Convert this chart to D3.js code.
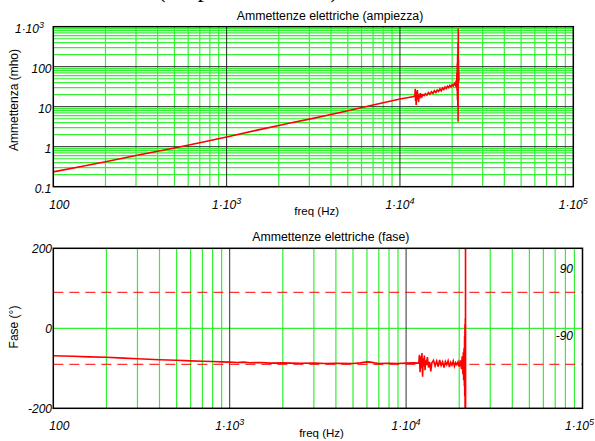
<!DOCTYPE html>
<html>
<head>
<meta charset="utf-8">
<script src="https://cdn.jsdelivr.net/npm/d3@7/dist/d3.min.js"></script>
<style>
  html, body { margin: 0; padding: 0; background: #fff; }
  svg { display: block; }
  text { font-family: "Liberation Sans", Arial, sans-serif; fill: #000; }
</style>
</head>
<body>
<svg id="chart" width="595" height="441"></svg>
<script>
// ---------------- DATA ----------------
const xTickValues = [100, 1000, 10000, 100000];
const xTickBase   = ["100", "1·10", "1·10", "1·10"];
const xTickSup    = ["", "3", "4", "5"];

const magTickValues = [0.1, 1, 10, 100, 1000];
const magTickBase   = ["0.1", "1", "10", "100", "1·10"];
const magTickSup    = ["", "", "", "", "3"];

const phaseTickValues = [-200, 0, 200];
const phaseTickLabels = ["-200", "0", "200"];
const phaseRefValues  = [90, -90];
const phaseRefLabels  = ["90", "-90"];

const titleMag   = "Ammettenze elettriche (ampiezza)";
const titlePhase = "Ammettenze elettriche (fase)";
const xLabel     = "freq (Hz)";
const yLabelMag  = "Ammettenza (mho)";
const yLabelPh   = "Fase (°)";

const magFreq = [100,150,200,300,400,500,700,1000,1500,2000,2325,3000,4000,5000,7000,10000,11000,12000,
  12200,12250,12300,12350,12400,12450,12500,12600,12650,12700,12800,12900,13000,13100,13200,13300,13400,
  13600,13800,14000,14300,14600,14900,15200,15500,15800,16100,16400,16700,17000,17300,17600,17900,18200,
  18500,18800,19100,19400,19700,20000,20300,20600,20900,21100,21200,21300,21350,21400,21450,21500,21550,
  21600,21650,21700,21720,21750,21800,21850,21900];
const magVal = [0.235,0.33,0.42,0.60,0.77,0.93,1.25,1.75,2.6,3.4,3.9,4.9,6.4,7.9,11.0,15.5,16.8,18,
  19,28,14,24,11,22,17,26,15,21,13,20,16,22,17,21,18,
  20,19,21,19.5,22.5,20.5,23.5,21.5,25,22.5,26,24,28,25,29.5,27,31,
  28.5,32.5,30,34,31.5,35.5,33,38,34,45,30,70,25,120,15,200,10,
  400,4.2,900,60,150,40,80,45];

const phaseFreq = [100,130,160,200,250,300,400,500,600,700,800,900,1000,1100,1200,1300,1500,1700,2000,2500,
  3000,3500,4000,5000,5500,6000,6300,6600,7000,8000,9000,10000,11000,11800,11900,12000,12100,12200,12300,
  12400,12500,12600,12700,12800,12900,13000,13200,13400,13600,13800,14000,14300,14600,14900,15200,15500,
  15800,16100,16400,16700,17000,17300,17600,17900,18200,18500,18800,19100,19400,19700,20000,20300,20600,
  20800,21000,21100,21200,21300,21400,21450,21500,21550,21600,21650,21700,21720,21740];
const phaseVal = [-68.5,-70,-71.5,-72.5,-74.5,-76,-78.5,-80,-81.5,-82.5,-83,-84,-84.5,-85.5,-84.5,-86,-85.5,-87,-86.5,-87.5,
  -87,-88,-87.5,-88,-86.5,-84,-84.5,-86.5,-88,-87.5,-88,-87,-86.5,-87,-66,-110,-70,-100,-62,
  -121,-75,-95,-68,-105,-80,-92,-72,-98,-84,-108,-86,-80,-94,-82,-96,-79,
  -93,-84,-98,-83,-91,-81,-97,-85,-92,-82,-95,-86,-91,-84,-96,-80,-102,
  -70,-115,-60,-130,-50,-145,-20,-170,10,-200,25,-200,200,-200];

// ---------------- DRAWING ----------------
const svg = d3.select("#chart");
const GREEN = "#33f033", DARK = "#222", RED = "#ff0000";

function minorValues(lo, hi) {
  const out = [];
  for (let d = lo; d < hi; d *= 10) for (let k = 2; k <= 9; k++) out.push(d * k);
  return out;
}

function addSupLabel(g, x, y, base, sup, anchor, fs) {
  const t = g.append("text").attr("x", x).attr("y", y).attr("text-anchor", anchor)
    .style("font-style", "italic").style("font-size", fs + "px");
  t.append("tspan").text(base);
  if (sup) t.append("tspan").attr("dy", -5).style("font-size", (fs - 3) + "px").text(sup);
  return t;
}

// partially visible heading at very top (cropped by the page edge)
svg.append("text").attr("x", 157).attr("y", -3.5)
  .style("font-family", "'Liberation Serif', 'Times New Roman', serif").style("font-size", "26px")
  .text("(ampiezza e fase)");

// ===== Top panel: magnitude =====
{
  const L = 53.3, R = 573.3, T = 26.7, B = 186.7;
  const x = d3.scaleLog().domain([100, 100000]).range([L, R]);
  const y = d3.scaleLog().domain([0.1, 1000]).range([B, T]);
  const g = svg.append("g");

  g.selectAll(".vminor").data(minorValues(100, 100000)).join("line")
    .attr("x1", d => x(d)).attr("x2", d => x(d)).attr("y1", T).attr("y2", B)
    .attr("stroke", GREEN).attr("stroke-width", 1.2);
  g.selectAll(".hminor").data(minorValues(0.1, 1000)).join("line")
    .attr("x1", L).attr("x2", R).attr("y1", d => y(d)).attr("y2", d => y(d))
    .attr("stroke", GREEN).attr("stroke-width", 1.2);
  g.selectAll(".vmajor").data(xTickValues.slice(1, -1)).join("line")
    .attr("x1", d => x(d)).attr("x2", d => x(d)).attr("y1", T).attr("y2", B)
    .attr("stroke", DARK).attr("stroke-width", 1);
  g.selectAll(".hmajor").data(magTickValues.slice(1, -1)).join("line")
    .attr("x1", L).attr("x2", R).attr("y1", d => y(d)).attr("y2", d => y(d))
    .attr("stroke", DARK).attr("stroke-width", 1);

  svg.append("clipPath").attr("id", "clipMag").append("rect")
    .attr("x", L).attr("y", T).attr("width", R - L).attr("height", B - T);
  const line = d3.line().x(d => x(d[0])).y(d => y(d[1]));
  g.append("path").attr("clip-path", "url(#clipMag)")
    .datum(d3.zip(magFreq, magVal)).attr("d", line)
    .attr("fill", "none").attr("stroke", RED).attr("stroke-width", 1.6);

  g.append("rect").attr("x", L).attr("y", T).attr("width", R - L).attr("height", B - T)
    .attr("fill", "none").attr("stroke", "#000").attr("stroke-width", 1.5);

  xTickValues.forEach((v, i) => {
    addSupLabel(g, x(v) + (i === 0 ? 6 : 0), 208.5, xTickBase[i], xTickSup[i], "middle", 12);
  });
  magTickValues.forEach((v, i) => {
    addSupLabel(g, magTickSup[i] ? 44 : 51.5, y(v) + 6.5, magTickBase[i], magTickSup[i], "end", 12);
  });

  g.append("text").attr("x", 330).attr("y", 19.5).attr("text-anchor", "middle")
    .style("font-size", "12.3px").text(titleMag);
  g.append("text").attr("x", 316.7).attr("y", 214.5).attr("text-anchor", "middle")
    .style("font-size", "11.5px").text(xLabel);
  g.append("text").attr("transform", "translate(17.5,100) rotate(-90)").attr("text-anchor", "middle")
    .style("font-size", "12px").text(yLabelMag);
}

// ===== Bottom panel: phase =====
{
  const L = 53.3, R = 582.5, T = 248.3, B = 408.3;
  const x = d3.scaleLog().domain([100, 100000]).range([L, R]);
  const y = d3.scaleLinear().domain([-200, 200]).range([B, T]);
  const g = svg.append("g");

  g.selectAll(".vminor").data(minorValues(100, 100000)).join("line")
    .attr("x1", d => x(d)).attr("x2", d => x(d)).attr("y1", T).attr("y2", B)
    .attr("stroke", GREEN).attr("stroke-width", 1.2);
  g.append("line").attr("x1", L).attr("x2", R).attr("y1", y(0)).attr("y2", y(0))
    .attr("stroke", GREEN).attr("stroke-width", 1.2);
  g.selectAll(".vmajor").data(xTickValues.slice(1, -1)).join("line")
    .attr("x1", d => x(d)).attr("x2", d => x(d)).attr("y1", T).attr("y2", B)
    .attr("stroke", "#333").attr("stroke-width", 1);

  svg.append("clipPath").attr("id", "clipPh").append("rect")
    .attr("x", L).attr("y", T).attr("width", R - L).attr("height", B - T);

  g.selectAll(".ref").data(phaseRefValues).join("line")
    .attr("x1", L).attr("x2", R).attr("y1", d => y(d)).attr("y2", d => y(d))
    .attr("stroke", RED).attr("stroke-width", 1).attr("stroke-dasharray", "10,6");

  const line = d3.line().x(d => x(d[0])).y(d => y(d[1]));
  g.append("path").attr("clip-path", "url(#clipPh)")
    .datum(d3.zip(phaseFreq, phaseVal)).attr("d", line)
    .attr("fill", "none").attr("stroke", RED).attr("stroke-width", 1.6);

  g.append("rect").attr("x", L).attr("y", T).attr("width", R - L).attr("height", B - T)
    .attr("fill", "none").attr("stroke", "#000").attr("stroke-width", 1.5);

  xTickValues.forEach((v, i) => {
    const dx = i === 0 ? 6 : (i === xTickValues.length - 1 ? -3 : 0);
    addSupLabel(g, x(v) + dx, 430, xTickBase[i], xTickSup[i], "middle", 12);
  });
  phaseTickValues.forEach((v, i) => {
    g.append("text").attr("x", 52).attr("y", y(v) + 4.5).attr("text-anchor", "end")
      .style("font-style", "italic").style("font-size", "12px").text(phaseTickLabels[i]);
  });
  const refOffsets = [-19, -24];
  phaseRefValues.forEach((v, i) => {
    g.append("text").attr("x", 573).attr("y", y(v) + refOffsets[i]).attr("text-anchor", "end")
      .style("font-style", "italic").style("font-size", "12px").text(phaseRefLabels[i]);
  });

  g.append("text").attr("x", 330.8).attr("y", 241).attr("text-anchor", "middle")
    .style("font-size", "12.3px").text(titlePhase);
  g.append("text").attr("x", 321.5).attr("y", 437).attr("text-anchor", "middle")
    .style("font-size", "11.5px").text(xLabel);
  g.append("text").attr("transform", "translate(17.5,327) rotate(-90)").attr("text-anchor", "middle")
    .style("font-size", "12px").text(yLabelPh);
}
</script>
</body>
</html>
